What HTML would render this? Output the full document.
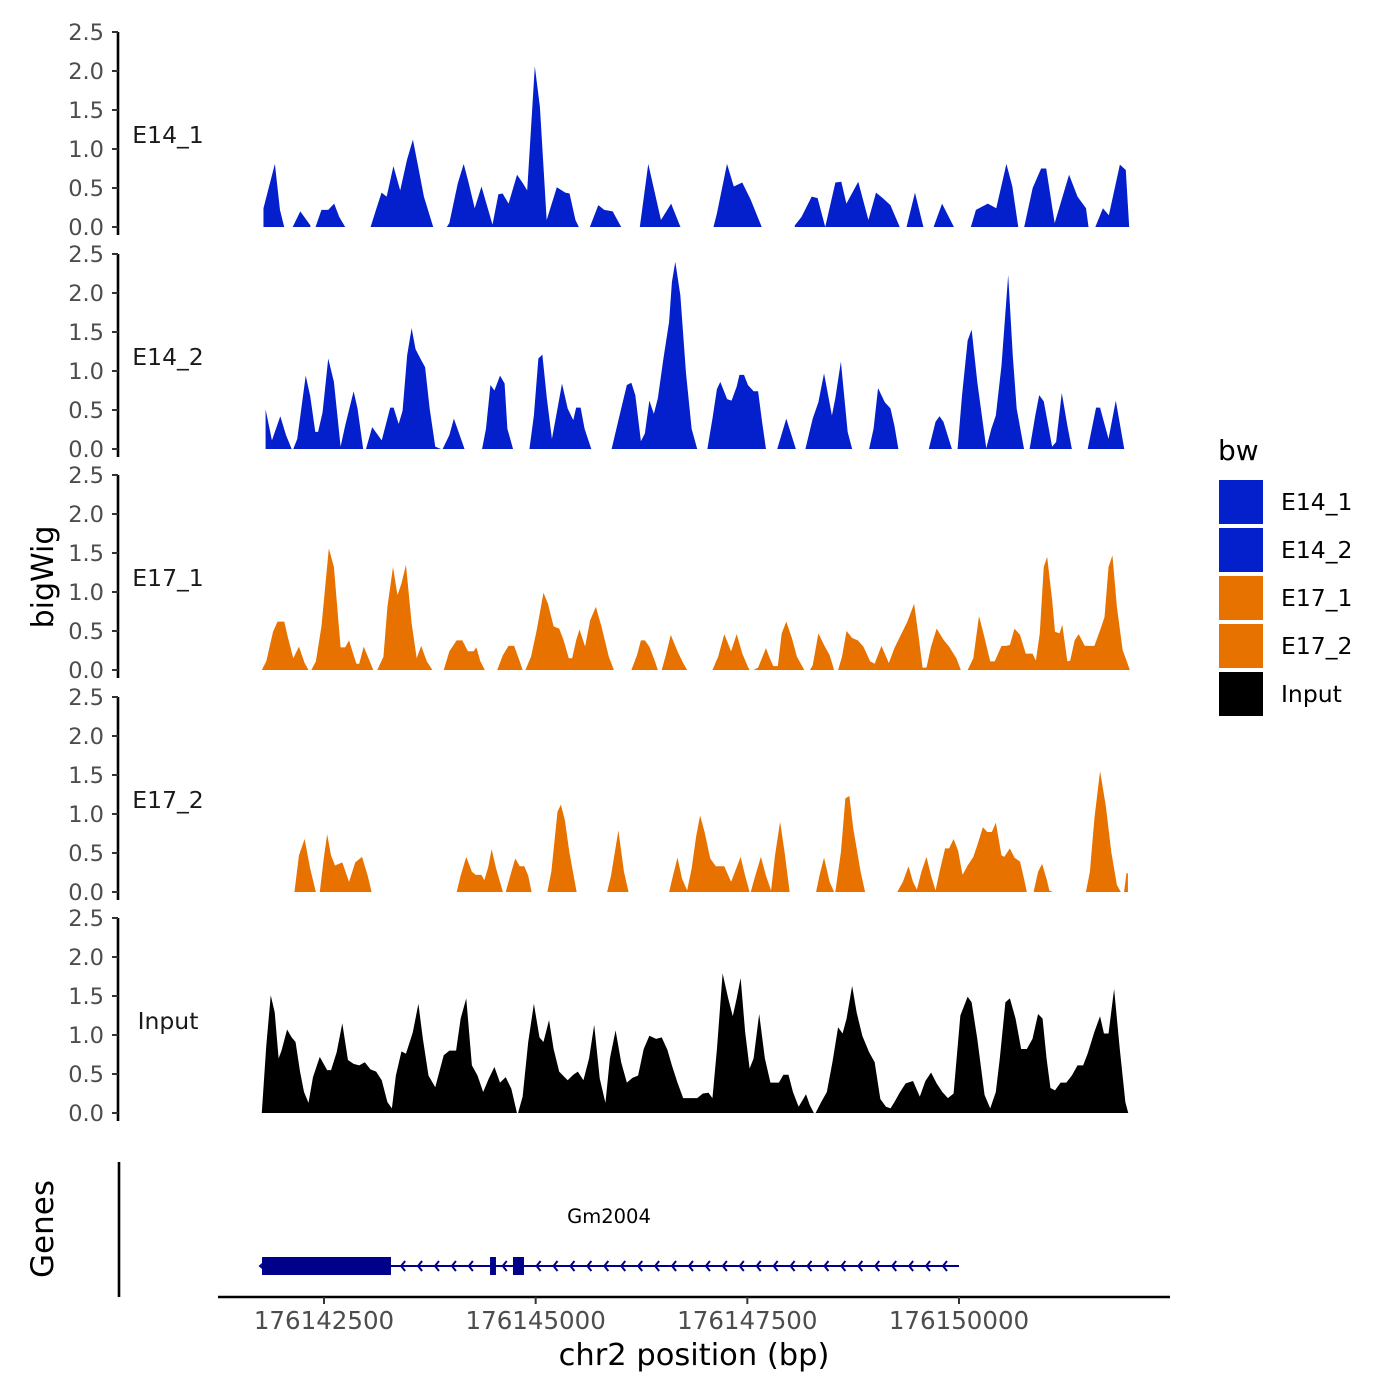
<!DOCTYPE html>
<html><head><meta charset="utf-8">
<style>
html,body{margin:0;padding:0;background:#fff;}
svg{display:block;font-family:"DejaVu Sans","Liberation Sans",sans-serif;}
</style></head>
<body>
<svg id="chart" width="1400" height="1400" viewBox="0 0 1400 1400" xmlns="http://www.w3.org/2000/svg">
<rect x="0" y="0" width="1400" height="1400" fill="#fff"/>
<g id="tracks"></g>
<g id="genes"></g>
<g id="xaxis"></g>
<text x="0" y="0" transform="translate(53,577) rotate(-90)" text-anchor="middle" font-size="30" fill="#000">bigWig</text>
<text x="0" y="0" transform="translate(53,1229) rotate(-90)" text-anchor="middle" font-size="31" fill="#000">Genes</text>
<text x="694" y="1365" text-anchor="middle" font-size="30.5" fill="#000">chr2 position (bp)</text>
<g id="legend">
  <text x="1218" y="460" font-size="28" fill="#000">bw</text>
</g>
</svg>
<script>
// ---- data ----
const REGION_OFFSET = 176140000;
const trackNames = ["E14_1","E14_2","E17_1","E17_2","Input"];
const trackColors = ["#0420CC","#0420CC","#E87200","#E87200","#000000"];
const yTicks = [0,0.5,1.0,1.5,2.0,2.5];
const yTickLabels = ["0.0","0.5","1.0","1.5","2.0","2.5"];
const xTicks = [176142500,176145000,176147500,176150000];
const xTickLabels = ["176142500","176145000","176147500","176150000"];

const e14_1_pos = [1785,1920,1980,2030,null,2130,2220,2340,null,2400,2470,2550,2620,2680,2750,null,3050,3120,3180,3240,3320,3400,3480,3550,3620,3680,3790,null,3950,3980,4080,4150,4210,4280,4360,4490,4560,4610,4680,4780,4850,4900,4990,5050,5130,5250,5350,5400,5470,5510,null,5640,5740,5810,5910,6010,null,6230,6330,6480,6600,6710,null,7100,7140,7260,7340,7440,7540,7670,null,8060,8140,8260,8330,8420,8540,8610,8670,8810,8930,9020,9100,9190,9300,null,9380,9480,9550,9580,null,9700,9800,9940,null,10140,10200,10340,10440,10560,10630,10700,null,10770,10870,10970,11030,11130,11300,11400,11500,11530,null,11610,11700,11770,11900,11970,12010];
const e14_1_val = [0.24,0.81,0.22,0,null,0,0.2,0.02,null,0,0.22,0.22,0.3,0.13,0,null,0,0.24,0.44,0.39,0.78,0.47,0.86,1.12,0.73,0.39,0,null,0,0.05,0.56,0.81,0.56,0.24,0.52,0.03,0.42,0.43,0.3,0.67,0.56,0.47,2.06,1.54,0.09,0.51,0.44,0.43,0.09,0,null,0,0.28,0.22,0.2,0,null,0,0.81,0.09,0.3,0,null,0,0.17,0.81,0.52,0.57,0.35,0,null,0.02,0.13,0.39,0.37,0,0.57,0.58,0.3,0.58,0.09,0.44,0.37,0.28,0,null,0,0.44,0.13,0,null,0,0.3,0,null,0,0.22,0.3,0.24,0.81,0.52,0,null,0,0.5,0.75,0.75,0.05,0.67,0.39,0.24,0,null,0,0.24,0.15,0.8,0.73,0];

const e14_2_pos = [1810,1885,1984,2051,2118,null,2137,2184,2284,2337,2397,2430,2483,2550,2617,2696,2750,2850,2896,2963,null,2996,3069,3182,3282,3322,3382,3428,3482,3535,3581,3648,3694,3748,3814,3881,null,3901,3981,4034,4160,null,4367,4413,4466,4513,4579,4633,4666,4733,null,4926,4979,5032,5079,5132,5192,5258,5311,5378,5444,5478,5531,5578,5657,null,5897,6010,6077,6130,6177,6243,6290,6343,6396,6443,6509,6576,6609,6649,6709,6775,6842,6908,null,7028,7088,7141,7181,7261,7314,7374,7407,7461,7507,7574,7627,7674,7720,null,7853,7960,8073,null,8186,8272,8339,8406,8499,8539,8605,8685,8738,null,8938,8991,9044,9124,9191,9237,9284,null,9643,9723,9770,9816,9916,null,9983,10036,10102,10149,10216,10322,10382,10435,10502,10581,10635,10681,10768,null,10834,10901,10947,11001,11100,11147,11214,11280,11333,null,11520,11619,11666,11766,11852,11952];
const e14_2_val = [0.51,0.11,0.42,0.18,0,null,0,0.13,0.94,0.68,0.22,0.22,0.47,1.16,0.86,0.03,0.3,0.74,0.52,0,null,0,0.28,0.11,0.53,0.53,0.32,0.49,1.2,1.55,1.28,1.14,1.05,0.52,0.03,0,null,0,0.18,0.39,0,null,0,0.26,0.82,0.75,0.94,0.84,0.26,0,null,0,0.43,1.16,1.21,0.65,0.13,0.52,0.84,0.52,0.37,0.53,0.53,0.26,0,null,0,0.52,0.82,0.85,0.69,0.1,0.2,0.62,0.45,0.65,1.16,1.63,2.14,2.4,1.97,0.98,0.26,0,null,0,0.39,0.77,0.86,0.64,0.62,0.8,0.95,0.95,0.82,0.74,0.74,0.35,0,null,0,0.39,0,null,0,0.39,0.6,0.97,0.43,0.65,1.12,0.22,0,null,0,0.26,0.78,0.6,0.52,0.3,0,null,0,0.35,0.42,0.35,0,null,0,0.69,1.39,1.53,0.86,0.01,0.26,0.43,1.07,2.23,1.2,0.52,0,null,0,0.43,0.69,0.61,0.03,0.09,0.72,0.3,0,null,0,0.53,0.53,0.13,0.62,0];

const e17_1_pos = [1765,1818,1898,1951,2031,2071,2137,2204,2271,2317,null,2350,2404,2470,2557,2617,2696,2750,2796,2850,2883,2916,2969,3049,3082,null,3129,3202,3249,3315,3368,3415,3468,3535,3595,3648,3714,3781,null,3914,3981,4067,4134,4200,4267,4300,4347,4400,null,4546,4613,4679,4746,4812,4846,null,4879,4945,5012,5092,5145,5212,5278,5331,5391,5431,5478,5518,5584,5644,5711,5777,5864,5924,null,6130,6197,6243,6290,6343,6409,6443,null,6489,6542,6596,6675,6742,6789,null,7088,7155,7228,7308,7374,7441,7507,7527,null,7574,7627,7720,7773,7807,7860,7906,7960,8026,8086,8173,null,8239,8272,8339,8406,8472,8525,null,8572,8618,8672,8738,8805,8871,8951,9004,9084,9171,9237,9304,9390,9470,9523,9570,9616,9670,9736,9816,9883,9969,10022,null,10102,10169,10236,10289,10369,10422,10502,10555,10601,10655,10721,10788,10868,10908,10954,11001,11041,11100,11134,11187,11220,11280,11313,11366,11413,11486,11599,11666,11719,11766,11812,11865,11932,12018];
const e17_1_val = [0,0.11,0.49,0.62,0.62,0.43,0.15,0.3,0.09,0,null,0,0.11,0.56,1.56,1.32,0.29,0.29,0.38,0.19,0.08,0.08,0.3,0.09,0,null,0,0.17,0.81,1.32,0.96,1.11,1.35,0.6,0.15,0.31,0.11,0,null,0,0.24,0.38,0.38,0.24,0.24,0.29,0.11,0,null,0,0.19,0.31,0.31,0.11,0,null,0,0.17,0.51,0.99,0.85,0.56,0.53,0.38,0.15,0.15,0.38,0.52,0.3,0.64,0.81,0.56,0.17,0,null,0,0.19,0.38,0.38,0.3,0.11,0,null,0,0.21,0.45,0.24,0.09,0,null,0,0.17,0.46,0.24,0.46,0.21,0.04,0,null,0,0.03,0.28,0.13,0.05,0.05,0.47,0.62,0.41,0.17,0,null,0,0.06,0.47,0.32,0.19,0,null,0,0.17,0.5,0.41,0.38,0.3,0.11,0.08,0.31,0.09,0.28,0.43,0.62,0.85,0.43,0.03,0.03,0.3,0.53,0.39,0.3,0.15,0,null,0,0.15,0.69,0.47,0.11,0.11,0.31,0.31,0.32,0.53,0.45,0.21,0.21,0.12,0.47,1.32,1.45,0.9,0.49,0.47,0.58,0.11,0.12,0.38,0.46,0.31,0.31,0.51,0.68,1.32,1.47,0.81,0.26,0];

const e17_2_pos = [2151,2204,2271,2337,2404,null,2450,2497,2537,2583,2630,2716,2796,2869,2949,3016,3062,null,4067,4114,4180,4247,4293,4360,4393,4440,4480,4533,4613,null,4646,4713,4759,4812,4866,4912,4952,null,5138,5185,5258,5298,5345,5398,5484,null,5844,5890,5977,6043,6097,null,6576,6622,6675,6729,6789,6842,6895,6942,6995,7062,7128,7228,7308,7354,7421,7474,7527,null,7540,7594,7660,7720,7780,7827,7887,7940,8000,null,8312,8352,8406,8472,8525,null,8539,8605,8658,8705,8752,8838,8891,null,9271,9337,9404,9457,9503,9556,9616,9670,9723,9770,9836,9883,9936,9989,10042,10102,10169,10216,10282,10335,10388,10435,10502,10535,10601,10655,10721,10768,10801,null,10881,10934,10981,11034,11067,11107,null,11499,11546,11599,11666,11733,11799,11865,11912,null,11950,11978,11995];
const e17_2_val = [0,0.47,0.68,0.3,0,null,0,0.43,0.74,0.47,0.34,0.38,0.13,0.38,0.45,0.21,0,null,0,0.21,0.45,0.26,0.22,0.22,0.15,0.32,0.55,0.3,0,null,0,0.26,0.43,0.33,0.33,0.21,0,null,0,0.26,1.03,1.12,0.92,0.51,0,null,0,0.21,0.79,0.26,0,null,0,0.21,0.44,0.17,0.02,0.3,0.71,0.98,0.77,0.43,0.33,0.33,0.13,0.26,0.45,0.21,0,null,0,0.21,0.45,0.21,0.02,0.47,0.9,0.51,0,null,0,0.21,0.44,0.13,0,null,0,0.51,1.2,1.23,0.81,0.26,0,null,0,0.13,0.33,0.13,0.03,0.26,0.45,0.21,0.02,0.26,0.56,0.56,0.68,0.53,0.22,0.34,0.45,0.6,0.83,0.77,0.77,0.89,0.47,0.45,0.56,0.44,0.39,0.17,0,null,0,0.26,0.36,0.17,0.02,0,null,0,0.26,0.94,1.55,1.11,0.51,0.09,0,null,0,0.24,0.24];

const input_pos = [1765,1818,1871,1918,1964,1998,2064,2118,2164,2217,2264,2317,2370,2450,2537,2583,2650,2716,2783,2850,2916,2982,3049,3116,3182,3249,3302,3349,3415,3468,3548,3615,3668,3734,3814,3914,3981,4060,4114,4180,4247,4313,4380,4446,4513,4579,4646,4713,4779,null,4792,4846,4912,4979,5045,5092,5158,5212,5278,5378,5444,5498,5564,5631,5691,5757,5824,5877,5944,6010,6077,6143,6210,6276,6343,6423,6489,6556,6609,6675,6742,6908,6975,7041,7088,7141,7208,7274,7328,7374,7421,7474,7527,7574,7640,7707,7773,7873,7926,7986,8039,8106,8193,8239,8286,null,8306,8372,8439,8505,8572,8625,8672,8738,8791,8858,8938,9004,9071,9137,9191,9237,9304,9370,9457,9537,9603,9670,9736,9803,9869,9936,10016,10102,10149,10216,10302,10369,10435,10482,10548,10601,10668,10734,10801,10868,10934,10987,11034,11080,11134,11200,11267,11333,11400,11466,11519,11599,11666,11712,11766,11832,11899,11965,11999];
const input_val = [0,0.86,1.51,1.29,0.7,0.8,1.07,0.97,0.91,0.53,0.27,0.13,0.46,0.72,0.55,0.55,0.78,1.15,0.68,0.63,0.61,0.65,0.56,0.53,0.42,0.14,0.06,0.48,0.79,0.76,1.03,1.4,0.95,0.48,0.33,0.74,0.8,0.8,1.21,1.47,0.61,0.48,0.27,0.44,0.59,0.39,0.46,0.31,0,null,0,0.21,0.91,1.4,0.97,0.91,1.19,0.82,0.53,0.42,0.49,0.53,0.42,0.7,1.13,0.44,0.13,0.7,1.06,0.65,0.39,0.45,0.48,0.82,0.99,0.95,0.97,0.81,0.61,0.39,0.19,0.19,0.25,0.26,0.19,0.82,1.79,1.47,1.24,1.47,1.73,1.04,0.57,0.7,1.27,0.7,0.39,0.39,0.49,0.49,0.27,0.08,0.24,0.1,0,null,0,0.14,0.27,0.65,1.1,1.02,1.21,1.63,1.29,0.99,0.78,0.65,0.18,0.08,0.06,0.14,0.27,0.38,0.41,0.21,0.41,0.52,0.38,0.27,0.19,0.25,1.25,1.49,1.42,0.95,0.23,0.06,0.27,0.7,1.42,1.47,1.21,0.82,0.82,0.95,1.27,1.21,0.7,0.32,0.29,0.39,0.39,0.48,0.61,0.61,0.76,1.04,1.24,1.02,1.02,1.59,0.82,0.14,0];

const trackPos = [e14_1_pos, e14_2_pos, e17_1_pos, e17_2_pos, input_pos];
const trackVal = [e14_1_val, e14_2_val, e17_1_val, e17_2_val, input_val];

// gene model (bp)
const geneName = "Gm2004";
const geneStart = 176141768;
const geneEnd = 176150000;
const exonStarts = [176141768, 176144461, 176144732];
const exonEnds = [176143291, 176144531, 176144862];

// ---- layout ----
const NS = "http://www.w3.org/2000/svg";
const panelBase = [227, 449, 670, 892, 1113];
const unitPx = 78;
const axisX = 118;
function xScale(bp){ return 324 + (bp - 176142500) * (635/7500); }
function yScale(panel, v){ return panelBase[panel] - v * unitPx; }
function mk(tag, attrs, parent){
  const el = document.createElementNS(NS, tag);
  for (const k in attrs) el.setAttribute(k, attrs[k]);
  parent.appendChild(el);
  return el;
}

const tracksG = document.getElementById('tracks');
for (let p = 0; p < trackNames.length; p++){
  const g = mk('g', {}, tracksG);
  
  
  const pos = trackPos[p], val = trackVal[p];
  let seg = [];
  const flush = () => {
    if (seg.length < 2) { seg = []; return; }
    const base = yScale(p, 0);
    let d = 'M' + xScale(REGION_OFFSET + seg[0][0]).toFixed(2) + ',' + base;
    for (const s of seg) d += 'L' + xScale(REGION_OFFSET + s[0]).toFixed(2) + ',' + yScale(p, s[1]).toFixed(2);
    d += 'L' + xScale(REGION_OFFSET + seg[seg.length-1][0]).toFixed(2) + ',' + base + 'Z';
    const path = mk('path', {d: d, fill: trackColors[p], stroke: 'none'}, g);
    
    
    seg = [];
  };
  for (let i = 0; i < pos.length; i++){
    if (pos[i] === null || val[i] === null) { flush(); continue; }
    seg.push([pos[i], val[i]]);
  }
  flush();
  const top = yScale(p, 2.5), bot = yScale(p, 0) + 8;
  const ax = mk('line', {x1: axisX, x2: axisX, y1: top, y2: bot, stroke: '#000', 'stroke-width': 2.6}, g);
  
  
  for (let t = 0; t < yTicks.length; t++){
    const yy = yScale(p, yTicks[t]);
    const tk = mk('line', {x1: axisX - 6, x2: axisX, y1: yy, y2: yy, stroke: '#333', 'stroke-width': 2}, g);
    
    
    const tl = mk('text', {x: 104, y: yy + 8, 'text-anchor': 'end', 'font-size': 22.5, fill: '#4d4d4d'}, g);
    
    
    tl.textContent = yTickLabels[t];
  }
  const lab = mk('text', {x: 168, y: yScale(p, 1.18) + 8, 'text-anchor': 'middle', 'font-size': 23.5, fill: '#1a1a1a'}, g);
  
  
  lab.textContent = trackNames[p];
}

// gene track
const geneG = document.getElementById('genes');
const gAxis = mk('line', {x1: 119, x2: 119, y1: 1162, y2: 1297, stroke: '#000', 'stroke-width': 2.6}, geneG);


const gy = 1266;
const navy = '#00008B';
const intron = mk('line', {x1: xScale(geneStart), x2: xScale(geneEnd), y1: gy, y2: gy, stroke: navy, 'stroke-width': 2}, geneG);


for (let i = 0; i < exonStarts.length; i++){
  const x0 = xScale(exonStarts[i]), x1 = xScale(exonEnds[i]);
  const r = mk('rect', {x: x0, y: gy - 9, width: Math.max(x1 - x0, 3), height: 18, fill: navy}, geneG);
  
  
}
for (let bp = exonEnds[0] + 120; bp < geneEnd - 20; bp += 200){
  let inside = false;
  for (let i = 0; i < exonStarts.length; i++) if (bp > exonStarts[i] - 60 && bp < exonEnds[i] + 60) inside = true;
  if (inside) continue;
  const cx = xScale(bp);
  const ch = mk('path', {d: 'M' + (cx + 4) + ',' + (gy - 5) + 'L' + cx + ',' + gy + 'L' + (cx + 4) + ',' + (gy + 5), fill: 'none', stroke: navy, 'stroke-width': 2}, geneG);
  
  
}
const startCh = mk('path', {d: 'M' + (xScale(geneStart) + 4) + ',' + (gy - 5) + 'L' + (xScale(geneStart) - 2) + ',' + gy + 'L' + (xScale(geneStart) + 4) + ',' + (gy + 5), fill: 'none', stroke: navy, 'stroke-width': 2}, geneG);


const gl = mk('text', {x: 609, y: 1223, 'text-anchor': 'middle', 'font-size': 19.5, fill: '#000'}, geneG);


gl.textContent = geneName;

// x axis
const xg = document.getElementById('xaxis');
const xl = mk('line', {x1: 218, x2: 1170, y1: 1297, y2: 1297, stroke: '#000', 'stroke-width': 2.6}, xg);


for (let t = 0; t < xTicks.length; t++){
  const xx = xScale(xTicks[t]);
  const tk = mk('line', {x1: xx, x2: xx, y1: 1297, y2: 1304, stroke: '#333', 'stroke-width': 2}, xg);
  
  
  const tl = mk('text', {x: xx, y: 1329, 'text-anchor': 'middle', 'font-size': 24.5, fill: '#4d4d4d'}, xg);
  
  
  tl.textContent = xTickLabels[t];
}

// legend
const lg = document.getElementById('legend');
for (let i = 0; i < trackNames.length; i++){
  const ky = 480 + i * 48;
  const k = mk('rect', {x: 1219, y: ky, width: 44, height: 44, fill: trackColors[i]}, lg);
  
  
  const t = mk('text', {x: 1281, y: ky + 30, 'font-size': 23.5, fill: '#000'}, lg);
  
  
  t.textContent = trackNames[i];
}
</script>
</body></html>
